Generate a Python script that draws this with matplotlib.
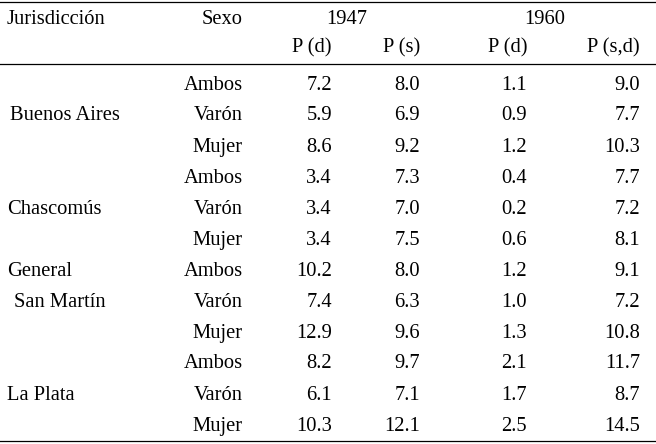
import matplotlib.pyplot as plt
from matplotlib.lines import Line2D

sexo = ["Ambos", "Varón", "Mujer"] * 4
p47_d = ["7.2", "5.9", "8.6", "3.4", "3.4", "3.4", "10.2", "7.4", "12.9", "8.2", "6.1", "10.3"]
p47_s = ["8.0", "6.9", "9.2", "7.3", "7.0", "7.5", "8.0", "6.3", "9.6", "9.7", "7.1", "12.1"]
p60_d = ["1.1", "0.9", "1.2", "0.4", "0.2", "0.6", "1.2", "1.0", "1.3", "2.1", "1.7", "2.5"]
p60_sd = ["9.0", "7.7", "10.3", "7.7", "7.2", "8.1", "9.1", "7.2", "10.8", "11.7", "8.7", "14.5"]
jurisd = [("Buenos Aires", 10, 1), ("Chascomús", 7, 4), ("General", 7, 6),
          ("San Martín", 14, 7), ("La Plata", 7, 10)]

W, H = 656, 444
fig = plt.figure(figsize=(W / 100, H / 100), dpi=100)
plt.rcParams['font.family'] = ['Liberation Serif', 'DejaVu Serif']
fs = 14.8

def txt(x, y, s, ha="left"):
    fig.text(x / W, 1 - y / H, s, ha=ha, va="center", fontsize=fs)

def hline(y):
    fig.add_artist(Line2D([0, 1], [1 - y / H] * 2, color="black", lw=0.9))

hline(2)
hline(64)
hline(441)

txt(7, 20, "Jurisdicción")
txt(243, 20, "Sexo", "right")
txt(347, 20, "1947", "center")
txt(545, 20, "1960", "center")
for x, s in [(332, "P (d)"), (420, "P (s)"), (527, "P (d)"), (640, "P (s,d)")]:
    txt(x, 48, s, "right")

for i in range(12):
    y = 85 + i * 31
    txt(243, y, sexo[i], "right")
    txt(332, y, p47_d[i], "right")
    txt(420, y, p47_s[i], "right")
    txt(527, y, p60_d[i], "right")
    txt(640, y, p60_sd[i], "right")

for name, x, row in jurisd:
    txt(x, 85 + row * 31, name)

fig.savefig("out.png", dpi=100)
